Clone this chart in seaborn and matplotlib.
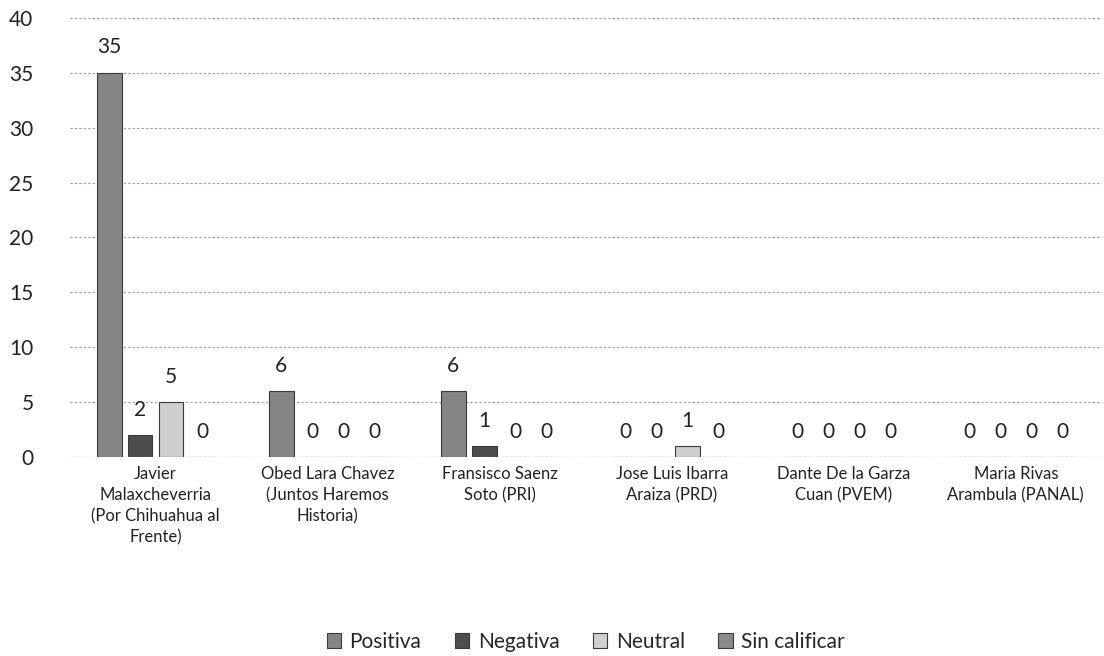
import pandas as pd
import matplotlib.pyplot as plt
import seaborn as sns

candidatos = [
    'Javier\nMalaxcheverria\n(Por Chihuahua al\nFrente)',
    'Obed Lara Chavez\n(Juntos Haremos\nHistoria)',
    'Fransisco Saenz\nSoto (PRI)',
    'Jose Luis Ibarra\nAraiza (PRD)',
    'Dante De la Garza\nCuan (PVEM)',
    'Maria Rivas\nArambula (PANAL)',
]
series = ['Positiva', 'Negativa', 'Neutral', 'Sin calificar']
positiva = [35, 6, 6, 0, 0, 0]
negativa = [2, 0, 1, 0, 0, 0]
neutral = [5, 0, 0, 1, 0, 0]
sin_calificar = [0, 0, 0, 0, 0, 0]

df = pd.DataFrame({
    'candidato': candidatos * 4,
    'tipo': [s for s in series for _ in candidatos],
    'valor': positiva + negativa + neutral + sin_calificar,
})

sns.set_style('white')
plt.rcParams['font.family'] = ['Lato', 'DejaVu Sans']

fig = plt.figure(figsize=(11.04, 6.56), dpi=100)
ax = fig.add_axes([0.063, 0.303, 0.935, 0.67])

palette = {
    'Positiva': '#858585',
    'Negativa': '#4d4d4d',
    'Neutral': '#cfcfcf',
    'Sin calificar': '#8a8a8a',
}
sns.barplot(data=df, x='candidato', y='valor', hue='tipo', palette=palette,
            width=0.72, gap=0.2, edgecolor='#3a3a3a', linewidth=0.8, ax=ax)

for c in ax.containers:
    ax.bar_label(c, fmt='%d', padding=11, fontsize=15, color='#222222')

ax.set_ylim(0, 40)
ax.set_yticks(range(0, 41, 5))
ax.yaxis.grid(True, linestyle=(0, (2, 2)), color='#9a9a9a', linewidth=0.8)
ax.set_axisbelow(True)
for s in ax.spines.values():
    s.set_visible(False)
ax.set_xlabel('')
ax.set_ylabel('')
ax.tick_params(axis='y', labelsize=15, length=0, pad=26, colors='#222222')
ax.tick_params(axis='x', labelsize=12, length=0, pad=6, colors='#222222')
for t in ax.get_xticklabels():
    t.set_linespacing(1.4)
ax.axhline(0, color='#9a9a9a', linewidth=0.8, linestyle=(0, (2, 2)))

ax.legend(loc='upper center', bbox_to_anchor=(0.5, -0.355), ncol=4, frameon=False,
          fontsize=15, handlelength=0.7, handleheight=0.7, handletextpad=0.4,
          columnspacing=1.6)

fig.savefig('out.png', dpi=100)
